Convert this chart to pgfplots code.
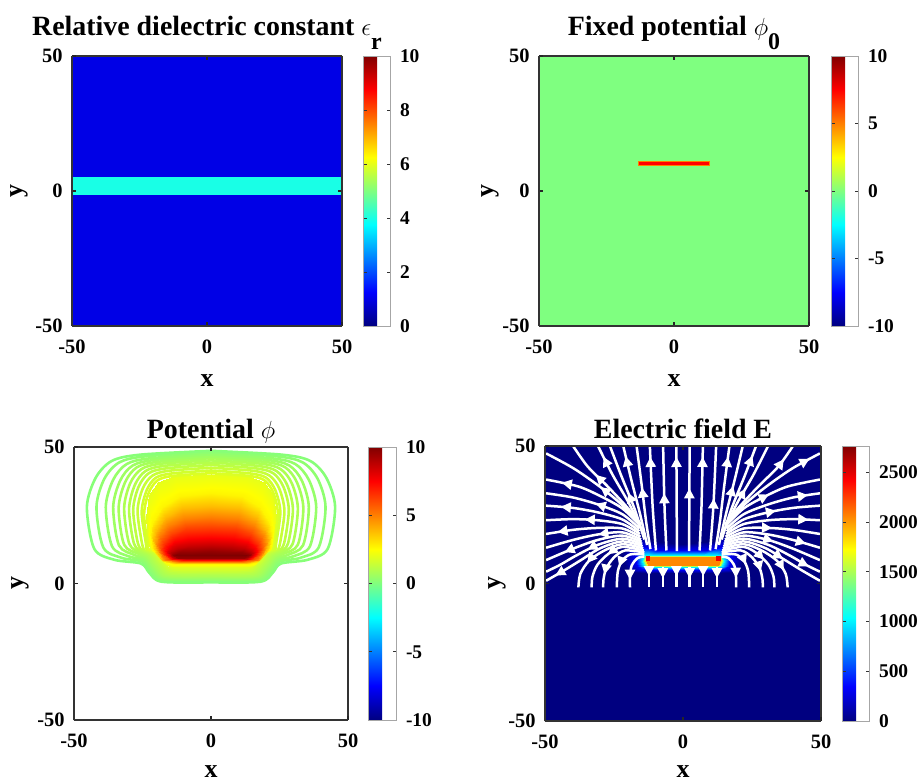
\documentclass[border=0pt]{standalone}
\usepackage{fontspec}
\setmainfont{Liberation Serif}
\usepackage{pgfplots}
\pgfplotsset{compat=1.18}
\usetikzlibrary{decorations.markings,arrows.meta}

\newcommand\tickfont{\fontsize{20.5}{21}\selectfont\bfseries}
\newcommand\cbarfont{\fontsize{19.5}{20}\selectfont\bfseries}
\newcommand\labelfont{\fontsize{26}{26}\selectfont\bfseries}
\newcommand\titlefont{\fontsize{28}{28}\selectfont\bfseries}
\newcommand\subfont{\fontsize{24}{24}\selectfont\bfseries}

% contour line colours (jet map on [-10,10])
\definecolor{lv015}{RGB}{135,255,120}
\definecolor{lv030}{RGB}{143,255,112}
\definecolor{lv045}{RGB}{150,255,105}
\definecolor{lv060}{RGB}{158,255,97}
\definecolor{lv075}{RGB}{166,255,89}
\definecolor{lv090}{RGB}{173,255,82}
\definecolor{lv105}{RGB}{181,255,74}
\definecolor{lv120}{RGB}{189,255,66}
\definecolor{lv140}{RGB}{199,255,56}
\definecolor{lv160}{RGB}{209,255,46}
\definecolor{lv180}{RGB}{219,255,36}

\pgfplotsset{
  field/.style={
    view={0}{90}, scale only axis,
    xmin=-50, xmax=50, ymin=-50, ymax=50,
    xtick={-50,0,50}, ytick={-50,0,50}, ztick=\empty,
    xticklabels={-50,0,50}, yticklabels={-50,0,50},
    tick align=inside, major tick length=4bp,
    tick style={line width=1.6bp, black!85},
    axis line style={line width=2.4bp, black!80},
    axis on top, colormap/jet,
    ticklabel style={font=\tickfont},
    xticklabel style={anchor=north, yshift=-10bp},
    yticklabel style={anchor=east, xshift=-6bp},
    xlabel={x}, ylabel={y},
    label style={font=\labelfont},
    xlabel style={anchor=base},
    ylabel style={anchor=center},
    title style={font=\titlefont, anchor=base},
    colorbar,
    colorbar style={
      at={(parent axis.north east)}, anchor=north west,
      scale only axis,
      tick align=inside, major tick length=3.5bp,
      tick style={line width=0.8bp, black!80},
      axis line style={draw=black!35, line width=0.5bp},
      yticklabel style={font=\cbarfont, anchor=west, xshift=6.5bp},
    },
  },
  cline/.style={draw=#1, line width=2.6bp, smooth},
  stream/.style={white, line width=2.5bp, smooth, postaction={decorate},
    decoration={markings, mark=at position #1 with {\arrow{Triangle[length=10bp,width=10bp]}}}},
  stream/.default=0.75,
}

\begin{document}
\begin{tikzpicture}
\path[use as bounding box] (0,0) rectangle (919bp,783bp);

% ---------------- relative dielectric constant ----------------
\begin{axis}[field, at={(72bp,457bp)}, anchor=south west,
  width=270bp, height=270bp,
  point meta min=0, point meta max=10,
  title={Relative dielectric constant $\epsilon$\raisebox{-14bp}{\subfont r}},
  title style={at={(axis description cs:0.5,1.053)}},
  xlabel style={at={(axis description cs:0.5,-0.225)}},
  ylabel style={at={(axis description cs:-0.196,0.5)}},
  colorbar style={xshift=12.5bp, width=27bp,
    ytick={0,2,4,6,8,10}, yticklabels={0,2,4,6,8,10}}]
\addplot3[surf, shader=flat, mesh/cols=2] coordinates {(-50,-50,1) (50,-50,1) (-50,-1.1,1) (50,-1.1,1)};
\addplot3[surf, shader=flat, mesh/cols=2] coordinates {(-50,-1.1,4) (50,-1.1,4) (-50,5.4,4) (50,5.4,4)};
\addplot3[surf, shader=flat, mesh/cols=2] coordinates {(-50,5.4,1) (50,5.4,1) (-50,50,1) (50,50,1)};
\end{axis}

% ---------------- fixed potential ----------------
\begin{axis}[field, at={(539bp,457bp)}, anchor=south west,
  width=270bp, height=270bp,
  point meta min=-10, point meta max=10,
  title={Fixed potential $\phi$\raisebox{-14bp}{\subfont 0}},
  title style={at={(axis description cs:0.5,1.053)}},
  xlabel style={at={(axis description cs:0.5,-0.225)}},
  ylabel style={at={(axis description cs:-0.180,0.5)}},
  colorbar style={xshift=13.5bp, width=27bp,
    ytick={-10,-5,0,5,10}, yticklabels={-10,-5,0,5,10}}]
\addplot3[surf, shader=flat, mesh/cols=2] coordinates {(-50,-50,0) (50,-50,0) (-50,50,0) (50,50,0)};
\addplot3[surf, shader=flat, mesh/cols=2] coordinates {(-13.2,9.45,5) (13.0,9.45,5) (-13.2,10.85,5) (13.0,10.85,5)};
\addplot3[surf, shader=flat, mesh/cols=2] coordinates {(-12.9,9.75,7.5) (12.7,9.75,7.5) (-12.9,10.55,7.5) (12.7,10.55,7.5)};
\end{axis}

% ---------------- potential ----------------
\begin{axis}[field, at={(74bp,63bp)}, anchor=south west,
  width=274bp, height=273bp,
  point meta min=-10, point meta max=10,
  title={Potential $\phi$},
  title style={at={(axis description cs:0.5,1.010)}},
  xlabel style={at={(axis description cs:0.5,-0.212)}},
  ylabel style={at={(axis description cs:-0.195,0.5)}},
  colorbar style={xshift=11.5bp, width=28bp,
    ytick={-10,-5,0,5,10}, yticklabels={-10,-5,0,5,10}}]
% dense contours around the strip, one ring per level
\addplot3[surf, shader=interp, mesh/cols=19] coordinates {
(0,10.6,10) (-6.65,10.6,10) (-10.64,10.6,10) (-12.77,10.6,10) (-13.3,10.6,10) (-12.77,10.6,10) (-11.31,10.6,10) (-7.98,10.6,10) (-3.99,10.6,10) (0,10.6,10) (3.99,10.6,10) (7.98,10.6,10) (11.31,10.6,10) (12.77,10.6,10) (13.3,10.6,10) (12.77,10.6,10) (10.64,10.6,10) (6.65,10.6,10) (0,10.6,10)
(0,11.8,9.6) (-7.1,11.72,9.6) (-11.36,11.4,9.6) (-13.63,10.96,9.6) (-14.2,10.6,9.6) (-13.63,10.02,9.6) (-12.07,9.46,9.6) (-8.52,9.3,9.6) (-4.26,9.3,9.6) (0,9.3,9.6) (4.26,9.3,9.6) (8.52,9.3,9.6) (12.07,9.46,9.6) (13.63,10.02,9.6) (14.2,10.6,9.6) (13.63,10.96,9.6) (11.36,11.4,9.6) (7.1,11.72,9.6) (0,11.8,9.6)
(0,14.0,8.6) (-7.7,13.79,8.6) (-12.32,13.01,8.6) (-14.78,11.9,8.6) (-15.4,11.0,8.6) (-14.78,10.06,8.6) (-13.09,9.15,8.6) (-9.24,8.9,8.6) (-4.62,8.9,8.6) (0,8.9,8.6) (4.62,8.9,8.6) (9.24,8.9,8.6) (13.09,9.15,8.6) (14.78,10.06,8.6) (15.4,11.0,8.6) (14.78,11.9,8.6) (12.32,13.01,8.6) (7.7,13.79,8.6) (0,14.0,8.6)
(0,17.2,7.4) (-8.4,16.82,7.4) (-13.44,15.42,7.4) (-16.13,13.42,7.4) (-16.8,11.8,7.4) (-16.13,10.36,7.4) (-14.28,8.98,7.4) (-10.08,8.6,7.4) (-5.04,8.6,7.4) (0,8.6,7.4) (5.04,8.6,7.4) (10.08,8.6,7.4) (14.28,8.98,7.4) (16.13,10.36,7.4) (16.8,11.8,7.4) (16.13,13.42,7.4) (13.44,15.42,7.4) (8.4,16.82,7.4) (0,17.2,7.4)
(0,20.7,6.2) (-9.1,20.15,6.2) (-14.56,18.09,6.2) (-17.47,15.17,6.2) (-18.2,12.8,6.2) (-17.47,10.78,6.2) (-15.47,8.84,6.2) (-10.92,8.3,6.2) (-5.46,8.3,6.2) (0,8.3,6.2) (5.46,8.3,6.2) (10.92,8.3,6.2) (15.47,8.84,6.2) (17.47,10.78,6.2) (18.2,12.8,6.2) (17.47,15.17,6.2) (14.56,18.09,6.2) (9.1,20.15,6.2) (0,20.7,6.2)
(0,24.5,5.0) (-9.8,23.78,5.0) (-15.68,21.1,5.0) (-18.82,17.29,5.0) (-19.6,14.2,5.0) (-18.82,11.41,5.0) (-16.66,8.74,5.0) (-11.76,8.0,5.0) (-5.88,8.0,5.0) (0,8.0,5.0) (5.88,8.0,5.0) (11.76,8.0,5.0) (16.66,8.74,5.0) (18.82,11.41,5.0) (19.6,14.2,5.0) (18.82,17.29,5.0) (15.68,21.1,5.0) (9.8,23.78,5.0) (0,24.5,5.0)
(0,28.5,3.8) (-10.5,27.61,3.8) (-16.8,24.31,3.8) (-20.16,19.61,3.8) (-21.0,15.8,3.8) (-20.16,12.11,3.8) (-17.85,8.58,3.8) (-12.6,7.6,3.8) (-6.3,7.6,3.8) (0,7.6,3.8) (6.3,7.6,3.8) (12.6,7.6,3.8) (17.85,8.58,3.8) (20.16,12.11,3.8) (21.0,15.8,3.8) (20.16,19.61,3.8) (16.8,24.31,3.8) (10.5,27.61,3.8) (0,28.5,3.8)
(0,33.0,2.7) (-11.15,31.92,2.7) (-17.84,27.92,2.7) (-21.41,22.22,2.7) (-22.3,17.6,2.7) (-21.41,12.83,2.7) (-18.96,8.27,2.7) (-13.38,7.0,2.7) (-6.69,7.0,2.7) (0,7.0,2.7) (6.69,7.0,2.7) (13.38,7.0,2.7) (18.96,8.27,2.7) (21.41,12.83,2.7) (22.3,17.6,2.7) (21.41,22.22,2.7) (17.84,27.92,2.7) (11.15,31.92,2.7) (0,33.0,2.7)
(0,40.1,2.0) (-13.5,39.2,2.0) (-19.3,37.2,2.0) (-22.6,32.6,2.0) (-23.8,24.5,2.0) (-23.1,15.0,2.0) (-20.6,8.6,2.0) (-14.5,6.1,2.0) (-7.0,6.0,2.0) (0,6.0,2.0) (7.0,6.0,2.0) (14.5,6.1,2.0) (20.6,8.6,2.0) (23.1,15.0,2.0) (23.8,24.5,2.0) (22.6,32.6,2.0) (19.3,37.2,2.0) (13.5,39.2,2.0) (0,40.1,2.0)
};
% outer contour lines
\addplot3[cline=lv180] coordinates {(0,40.4,1.8) (-13.9,39.4,1.8) (-19.5,37.8,1.8) (-22.7,33.3,1.8) (-24.4,25.7,1.8) (-23.2,14.8,1.8) (-22.6,12.2,1.8) (-21.0,10.8,1.8) (-18.6,7.6,1.8) (-14,5.45,1.8) (0,5.2,1.8) (14,5.45,1.8) (18.6,7.6,1.8) (21.0,10.8,1.8) (22.6,12.2,1.8) (23.2,14.8,1.8) (24.4,25.7,1.8) (22.7,33.3,1.8) (19.5,37.8,1.8) (13.9,39.4,1.8) (0,40.4,1.8)};
\addplot3[cline=lv160] coordinates {(0,41.4,1.6) (-14.4,40.3,1.6) (-20.2,38.7,1.6) (-23.5,34.1,1.6) (-25.3,26.2,1.6) (-23.8,14.9,1.6) (-23.3,11.9,1.6) (-21,10.9,1.6) (-18,7.75,1.6) (-14,4.85,1.6) (0,4.6,1.6) (14,4.85,1.6) (18,7.75,1.6) (21,10.9,1.6) (23.3,11.9,1.6) (23.8,14.9,1.6) (25.3,26.2,1.6) (23.5,34.1,1.6) (20.2,38.7,1.6) (14.4,40.3,1.6) (0,41.4,1.6)};
\addplot3[cline=lv140] coordinates {(0,42.4,1.4) (-15.3,41.3,1.4) (-21.4,39.5,1.4) (-24.9,34.8,1.4) (-26.8,26.6,1.4) (-25.2,14.8,1.4) (-24.0,11.8,1.4) (-21.5,10.7,1.4) (-18.5,7.35,1.4) (-14,4.25,1.4) (0,4.0,1.4) (14,4.25,1.4) (18.5,7.35,1.4) (21.5,10.7,1.4) (24.0,11.8,1.4) (25.2,14.8,1.4) (26.8,26.6,1.4) (24.9,34.8,1.4) (21.4,39.5,1.4) (15.3,41.3,1.4) (0,42.4,1.4)};
\addplot3[cline=lv120] coordinates {(0,43.4,1.2) (-16.2,42.2,1.2) (-22.7,40.4,1.2) (-26.4,35.5,1.2) (-28.4,27.0,1.2) (-26.7,14.8,1.2) (-24.5,11.6,1.2) (-22,10.5,1.2) (-19,7.0,1.2) (-14.5,3.75,1.2) (0,3.5,1.2) (14.5,3.75,1.2) (19,7.0,1.2) (22,10.5,1.2) (24.5,11.6,1.2) (26.7,14.8,1.2) (28.4,27.0,1.2) (26.4,35.5,1.2) (22.7,40.4,1.2) (16.2,42.2,1.2) (0,43.4,1.2)};
\addplot3[cline=lv105] coordinates {(0,44.3,1.05) (-17.0,43.1,1.05) (-23.9,41.2,1.05) (-27.8,36.1,1.05) (-29.9,27.2,1.05) (-28.1,14.6,1.05) (-25.0,11.4,1.05) (-22.5,10.2,1.05) (-19.5,6.6,1.05) (-15,3.25,1.05) (0,3.0,1.05) (15,3.25,1.05) (19.5,6.6,1.05) (22.5,10.2,1.05) (25.0,11.4,1.05) (28.1,14.6,1.05) (29.9,27.2,1.05) (27.8,36.1,1.05) (23.9,41.2,1.05) (17.0,43.1,1.05) (0,44.3,1.05)};
\addplot3[cline=lv090] coordinates {(0,45.1,0.9) (-18.1,43.9,0.9) (-25.4,41.9,0.9) (-29.5,36.7,0.9) (-31.7,27.5,0.9) (-29.8,14.5,0.9) (-25.5,11.1,0.9) (-23,9.9,0.9) (-20,6.2,0.9) (-15.5,2.75,0.9) (0,2.5,0.9) (15.5,2.75,0.9) (20,6.2,0.9) (23,9.9,0.9) (25.5,11.1,0.9) (29.8,14.5,0.9) (31.7,27.5,0.9) (29.5,36.7,0.9) (25.4,41.9,0.9) (18.1,43.9,0.9) (0,45.1,0.9)};
\addplot3[cline=lv075] coordinates {(0,45.9,0.75) (-19.2,44.6,0.75) (-27.0,42.6,0.75) (-31.3,37.2,0.75) (-33.7,27.7,0.75) (-31.7,14.2,0.75) (-26.3,10.8,0.75) (-23.5,9.5,0.75) (-20.5,5.75,0.75) (-16,2.25,0.75) (0,2.0,0.75) (16,2.25,0.75) (20.5,5.75,0.75) (23.5,9.5,0.75) (26.3,10.8,0.75) (31.7,14.2,0.75) (33.7,27.7,0.75) (31.3,37.2,0.75) (27.0,42.6,0.75) (19.2,44.6,0.75) (0,45.9,0.75)};
\addplot3[cline=lv060] coordinates {(0,46.6,0.6) (-20.3,45.3,0.6) (-28.6,43.2,0.6) (-33.2,37.6,0.6) (-35.7,27.9,0.6) (-33.6,14.0,0.6) (-27.8,10.4,0.6) (-24,9.1,0.6) (-21,5.35,0.6) (-16.5,1.85,0.6) (0,1.6,0.6) (16.5,1.85,0.6) (21,5.35,0.6) (24,9.1,0.6) (27.8,10.4,0.6) (33.6,14.0,0.6) (35.7,27.9,0.6) (33.2,37.6,0.6) (28.6,43.2,0.6) (20.3,45.3,0.6) (0,46.6,0.6)};
\addplot3[cline=lv045] coordinates {(0,47.3,0.45) (-21.9,45.9,0.45) (-30.7,43.8,0.45) (-35.7,38.0,0.45) (-38.4,28.0,0.45) (-36.1,13.6,0.45) (-30.0,9.95,0.45) (-24.5,8.6,0.45) (-21.5,4.9,0.45) (-17,1.45,0.45) (0,1.2,0.45) (17,1.45,0.45) (21.5,4.9,0.45) (24.5,8.6,0.45) (30.0,9.95,0.45) (36.1,13.6,0.45) (38.4,28.0,0.45) (35.7,38.0,0.45) (30.7,43.8,0.45) (21.9,45.9,0.45) (0,47.3,0.45)};
\addplot3[cline=lv030] coordinates {(0,48.0,0.3) (-23.8,46.6,0.3) (-33.4,44.4,0.3) (-38.9,38.4,0.3) (-41.8,28.0,0.3) (-39.3,13.2,0.3) (-32.6,9.4,0.3) (-25,8.0,0.3) (-22,4.4,0.3) (-17.5,1.05,0.3) (0,0.8,0.3) (17.5,1.05,0.3) (22,4.4,0.3) (25,8.0,0.3) (32.6,9.4,0.3) (39.3,13.2,0.3) (41.8,28.0,0.3) (38.9,38.4,0.3) (33.4,44.4,0.3) (23.8,46.6,0.3) (0,48.0,0.3)};
\addplot3[cline=lv015] coordinates {(0,48.6,0.15) (-25.8,47.2,0.15) (-36.2,44.9,0.15) (-42.1,38.7,0.15) (-45.3,28.0,0.15) (-42.6,12.7,0.15) (-35.3,8.7,0.15) (-25.5,7.3,0.15) (-22.5,3.9,0.15) (-18,0.65,0.15) (0,0.4,0.15) (18,0.65,0.15) (22.5,3.9,0.15) (25.5,7.3,0.15) (35.3,8.7,0.15) (42.6,12.7,0.15) (45.3,28.0,0.15) (42.1,38.7,0.15) (36.2,44.9,0.15) (25.8,47.2,0.15) (0,48.6,0.15)};
\end{axis}

% ---------------- electric field ----------------
\begin{axis}[field, at={(545bp,62bp)}, anchor=south west,
  width=276bp, height=275bp,
  point meta min=0, point meta max=2765,
  title={Electric field E},
  title style={at={(axis description cs:0.5,1.007)}},
  xlabel style={at={(axis description cs:0.5,-0.207)}},
  ylabel style={at={(axis description cs:-0.172,0.5)}},
  colorbar style={xshift=12.5bp, width=27bp,
    ytick={0,500,1000,1500,2000,2500}, yticklabels={0,500,1000,1500,2000,2500}}]
\addplot3[surf, shader=flat, mesh/cols=2] coordinates {(-50,-50,0) (50,-50,0) (-50,50,0) (50,50,0)};
% field magnitude around the strip
\addplot3[surf, shader=interp, mesh/cols=19] coordinates {
(0,8.2,2050) (-6.25,8.2,2050) (-10,8.2,2050) (-12,8.2,2050) (-12.5,8.2,2050) (-12,8.2,2050) (-10.6,8.2,2050) (-7.5,8.2,2050) (-3.75,8.2,2050) (0,8.2,2050) (3.75,8.2,2050) (7.5,8.2,2050) (10.6,8.2,2050) (12,8.2,2050) (12.5,8.2,2050) (12,8.2,2050) (10,8.2,2050) (6.25,8.2,2050) (0,8.2,2050)
(0,9.7,2050) (-6.6,9.7,2050) (-10.6,9.7,2050) (-12.6,9.6,2050) (-13.3,8.3,2050) (-12.6,6.9,2050) (-11.3,6.7,2050) (-8,6.7,2050) (-4,6.7,2050) (0,6.7,2050) (4,6.7,2050) (8,6.7,2050) (11.3,6.7,2050) (12.6,6.9,2050) (13.3,8.3,2050) (12.6,9.6,2050) (10.6,9.7,2050) (6.6,9.7,2050) (0,9.7,2050)
(0,10.5,1000) (-7.3,10.5,1000) (-11.7,10.5,1000) (-14.0,10.3,1000) (-14.8,8.3,1000) (-14.0,6.2,1000) (-12.4,5.9,1000) (-8.8,5.9,1000) (-4.4,5.9,1000) (0,5.9,1000) (4.4,5.9,1000) (8.8,5.9,1000) (12.4,5.9,1000) (14.0,6.2,1000) (14.8,8.3,1000) (14.0,10.3,1000) (11.7,10.5,1000) (7.3,10.5,1000) (0,10.5,1000)
(0,12.0,300) (-8.7,12.2,300) (-14,13.2,300) (-16.8,12.0,300) (-17.5,9.0,300) (-16.8,6.2,300) (-14.9,5.2,300) (-10.5,5.0,300) (-5.3,5.0,300) (0,5.0,300) (5.3,5.0,300) (10.5,5.0,300) (14.9,5.2,300) (16.8,6.2,300) (17.5,9.0,300) (16.8,12.0,300) (14,13.2,300) (8.7,12.2,300) (0,12.0,300)
(0,14.5,0) (-11,15.5,0) (-17.6,18.5,0) (-21.1,15.0,0) (-22,10.5,0) (-21.1,6.0,0) (-18.7,4.2,0) (-13.2,3.8,0) (-6.6,3.8,0) (0,3.8,0) (6.6,3.8,0) (13.2,3.8,0) (18.7,4.2,0) (21.1,6.0,0) (22,10.5,0) (21.1,15.0,0) (17.6,18.5,0) (11,15.5,0) (0,14.5,0)
};
\addplot3[surf, shader=flat, mesh/cols=2] coordinates {(-13.4,8.4,2450) (-12.2,8.4,2450) (-13.4,9.8,2450) (-12.2,9.8,2450)};
\addplot3[surf, shader=flat, mesh/cols=2] coordinates {(12.2,8.4,2450) (13.4,8.4,2450) (12.2,9.8,2450) (13.4,9.8,2450)};
% streamlines, left half
\addplot3[stream=0.45] coordinates {(-2.4,6.0,0) (-2.4,-1.4,0)};
\addplot3[stream=0.55] coordinates {(-7.3,6.0,0) (-7.3,-1.4,0)};
\addplot3[stream=0.45] coordinates {(-12.3,6.0,0) (-12.3,-1.4,0)};
\addplot3[stream=0.9] coordinates {(-2.2,11.8,0) (-2.3,30,0) (-2.4,49.8,0)};
\addplot3[stream=0.55] coordinates {(-6.0,12,0) (-6.7,28,0) (-7.2,49.8,0)};
\addplot3[stream=0.9] coordinates {(-9.8,12,0) (-11.0,28,0) (-12,49.8,0)};
\addplot3[stream=0.6] coordinates {(-11.8,12.5,0) (-13.3,22,0) (-15.0,36,0) (-16.8,49.8,0)};
\addplot3[stream=0.9] coordinates {(-13,14,0) (-15.5,25,0) (-18.8,38,0) (-21.6,49.8,0)};
\addplot3[stream=0.5] coordinates {(-14,16,0) (-17.5,27,0) (-22.3,39,0) (-26.4,49.8,0)};
\addplot3[stream=0.88] coordinates {(-14.8,19,0) (-19.5,29,0) (-25.5,39.5,0) (-30.7,49.8,0)};
\addplot3[stream=0.65] coordinates {(-15.2,21.5,0) (-20.5,28,0) (-27.5,35.5,0) (-34.5,42.5,0) (-39.7,49.8,0)};
\addplot3[stream=0.45] coordinates {(-16,22,0) (-22,28.5,0) (-30.1,35.2,0) (-39.7,41.9,0) (-49.6,47.3,0)};
\addplot3[stream=0.85] coordinates {(-15.5,21,0) (-22,27.3,0) (-30,31.8,0) (-38,35.3,0) (-49.6,37.8,0)};
\addplot3[stream=0.5] coordinates {(-15.8,20,0) (-22,25.2,0) (-31,28.8,0) (-40,31.3,0) (-49.6,32.8,0)};
\addplot3[stream=0.85] coordinates {(-15.8,19,0) (-22,23.3,0) (-31,25.9,0) (-40,27.5,0) (-49.6,28.3,0)};
\addplot3[stream=0.6] coordinates {(-15.6,18,0) (-22,21.6,0) (-31,23.0,0) (-40,23.4,0) (-49.6,23,0)};
\addplot3[stream=0.88] coordinates {(-15.4,17,0) (-22,20.0,0) (-31,20.2,0) (-40,19.5,0) (-49.6,18,0)};
\addplot3[stream=0.45] coordinates {(-15.2,16,0) (-22,18.6,0) (-31,17.8,0) (-40,15.8,0) (-49.6,13,0)};
\addplot3[stream=0.8] coordinates {(-15,15.2,0) (-22,17.4,0) (-31,15.8,0) (-40,12.6,0) (-49.6,8.5,0)};
\addplot3[stream=0.55] coordinates {(-14.8,14.4,0) (-22,16.3,0) (-31,14.0,0) (-39,10.0,0) (-44.5,6.8,0) (-49.6,4.3,0)};
\addplot3[stream=0.9] coordinates {(-14.6,13.6,0) (-22,15.3,0) (-30,12.8,0) (-37,8.5,0) (-43,4.8,0) (-49.6,1.0,0)};
\addplot3[stream=0.7] coordinates {(-14.4,12.8,0) (-22,14.3,0) (-28.5,12.0,0) (-34,8.3,0) (-37.2,3.5,0) (-37.9,-1.4,0)};
\addplot3[stream=0.5] coordinates {(-14.2,12.0,0) (-22,13.3,0) (-27,10.8,0) (-31,6.8,0) (-32.8,2.5,0) (-33.1,-1.4,0)};
\addplot3[stream=0.8] coordinates {(-14.0,11.3,0) (-21,12.0,0) (-25,9.5,0) (-27.8,5.5,0) (-28.8,1.5,0) (-28.9,-1.4,0)};
\addplot3[stream=0.6] coordinates {(-14.0,10.6,0) (-19,10.6,0) (-22,8.4,0) (-23.6,4.5,0) (-24,-1.4,0)};
\addplot3[stream=0.8] coordinates {(-14.0,9.8,0) (-16.5,9.2,0) (-18.6,6.5,0) (-19.2,2.5,0) (-19.2,-1.4,0)};
% streamlines, right half
\addplot3[stream=0.55] coordinates {(2.4,6.0,0) (2.4,-1.4,0)};
\addplot3[stream=0.45] coordinates {(7.3,6.0,0) (7.3,-1.4,0)};
\addplot3[stream=0.55] coordinates {(12.3,6.0,0) (12.3,-1.4,0)};
\addplot3[stream=0.6] coordinates {(2.2,11.8,0) (2.3,30,0) (2.4,49.8,0)};
\addplot3[stream=0.9] coordinates {(6.0,12,0) (6.7,28,0) (7.2,49.8,0)};
\addplot3[stream=0.5] coordinates {(9.8,12,0) (11.0,28,0) (12,49.8,0)};
\addplot3[stream=0.9] coordinates {(11.8,12.5,0) (13.3,22,0) (15.0,36,0) (16.8,49.8,0)};
\addplot3[stream=0.6] coordinates {(13,14,0) (15.5,25,0) (18.8,38,0) (21.6,49.8,0)};
\addplot3[stream=0.9] coordinates {(14,16,0) (17.5,27,0) (22.3,39,0) (26.4,49.8,0)};
\addplot3[stream=0.5] coordinates {(14.8,19,0) (19.5,29,0) (25.5,39.5,0) (30.7,49.8,0)};
\addplot3[stream=0.85] coordinates {(15.2,21.5,0) (20.5,28,0) (27.5,35.5,0) (34.5,42.5,0) (39.7,49.8,0)};
\addplot3[stream=0.9] coordinates {(16,22,0) (22,28.5,0) (30.1,35.2,0) (39.7,41.9,0) (49.6,47.3,0)};
\addplot3[stream=0.5] coordinates {(15.5,21,0) (22,27.3,0) (30,31.8,0) (38,35.3,0) (49.6,37.8,0)};
\addplot3[stream=0.88] coordinates {(15.8,20,0) (22,25.2,0) (31,28.8,0) (40,31.3,0) (49.6,32.8,0)};
\addplot3[stream=0.55] coordinates {(15.8,19,0) (22,23.3,0) (31,25.9,0) (40,27.5,0) (49.6,28.3,0)};
\addplot3[stream=0.88] coordinates {(15.6,18,0) (22,21.6,0) (31,23.0,0) (40,23.4,0) (49.6,23,0)};
\addplot3[stream=0.5] coordinates {(15.4,17,0) (22,20.0,0) (31,20.2,0) (40,19.5,0) (49.6,18,0)};
\addplot3[stream=0.85] coordinates {(15.2,16,0) (22,18.6,0) (31,17.8,0) (40,15.8,0) (49.6,13,0)};
\addplot3[stream=0.5] coordinates {(15,15.2,0) (22,17.4,0) (31,15.8,0) (40,12.6,0) (49.6,8.5,0)};
\addplot3[stream=0.88] coordinates {(14.8,14.4,0) (22,16.3,0) (31,14.0,0) (39,10.0,0) (44.5,6.8,0) (49.6,4.3,0)};
\addplot3[stream=0.6] coordinates {(14.6,13.6,0) (22,15.3,0) (30,12.8,0) (37,8.5,0) (43,4.8,0) (49.6,1.0,0)};
\addplot3[stream=0.8] coordinates {(14.4,12.8,0) (22,14.3,0) (28.5,12.0,0) (34,8.3,0) (37.2,3.5,0) (37.9,-1.4,0)};
\addplot3[stream=0.6] coordinates {(14.2,12.0,0) (22,13.3,0) (27,10.8,0) (31,6.8,0) (32.8,2.5,0) (33.1,-1.4,0)};
\addplot3[stream=0.75] coordinates {(14.0,11.3,0) (21,12.0,0) (25,9.5,0) (27.8,5.5,0) (28.8,1.5,0) (28.9,-1.4,0)};
\addplot3[stream=0.55] coordinates {(14.0,10.6,0) (19,10.6,0) (22,8.4,0) (23.6,4.5,0) (24,-1.4,0)};
\addplot3[stream=0.75] coordinates {(14.0,9.8,0) (16.5,9.2,0) (18.6,6.5,0) (19.2,2.5,0) (19.2,-1.4,0)};
\end{axis}
\end{tikzpicture}
\end{document}
